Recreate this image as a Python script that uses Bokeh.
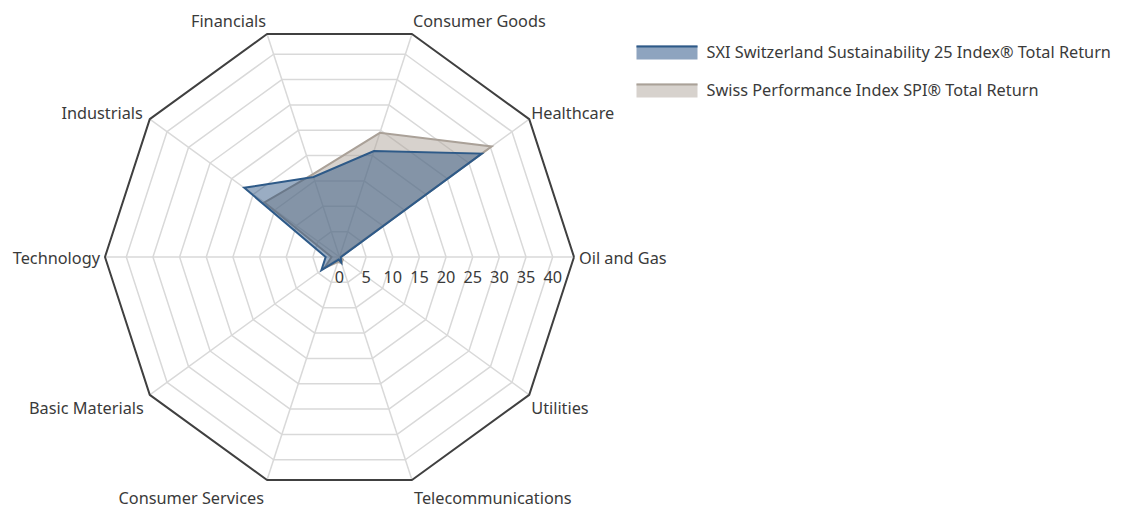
import numpy as np
from bokeh.plotting import figure
from bokeh.models import Range1d
from bokeh.core.properties import value
from bokeh.embed import file_html
from bokeh.resources import INLINE

categories = ["Oil and Gas", "Healthcare", "Consumer Goods", "Financials", "Industrials",
              "Technology", "Basic Materials", "Consumer Services", "Telecommunications", "Utilities"]
sxi_values = [0.3, 33.0, 20.9, 15.8, 22.1, 2.6, 4.2, 0.5, 1.1, 0.3]
spi_values = [0.2, 35.3, 24.5, 16.3, 17.4, 1.5, 3.5, 1.0, 1.2, 0.8]
tick_values = [0, 5, 10, 15, 20, 25, 30, 35, 40]
tick_labels = ["0", "5", "10", "15", "20", "25", "30", "35", "40"]
axis_max = 44
series_names = ["SXI Switzerland Sustainability 25 Index® Total Return",
                "Swiss Performance Index SPI® Total Return"]

W, H = 1129, 509
S = 5.33            # pixels per unit
CX, CY = 339, 256.5  # centre in canvas px
FONT = "Noto Sans"
FS = "16.3px"
TXT = "#3a3a3a"

p = figure(width=W, height=H, output_backend="svg", toolbar_location=None,
           x_range=Range1d(-CX / S, (W - CX) / S), y_range=Range1d(-(H - CY) / S, CY / S),
           min_border=0)
p.axis.visible = False
p.grid.visible = False
p.outline_line_color = None
p.background_fill_color = "white"

n = len(categories)
ang = np.deg2rad(np.arange(n) * 360.0 / n)

def ring(r):
    return list(r * np.cos(ang)) + [r * np.cos(ang[0])], list(r * np.sin(ang)) + [r * np.sin(ang[0])]

# grid rings
for t in tick_values[1:]:
    xs, ys = ring(t)
    p.line(xs, ys, line_color="#d9d9d9", line_width=1.5)
# spokes
p.segment(x0=[0] * n, y0=[0] * n, x1=list(axis_max * np.cos(ang)), y1=list(axis_max * np.sin(ang)),
          line_color="#d9d9d9", line_width=1.5)
# outer ring
xs, ys = ring(axis_max)
p.line(xs, ys, line_color="#404040", line_width=2)

def poly(vals):
    v = np.array(vals)
    return list(v * np.cos(ang)), list(v * np.sin(ang))

gx, gy = poly(spi_values)
p.patch(gx, gy, fill_color="#b0a69b", fill_alpha=0.5, line_color="#aaa198", line_width=2, line_join="miter")
bx, by = poly(sxi_values)
p.patch(bx, by, fill_color="#1f4a7a", fill_alpha=0.45, line_color="#2e5a88", line_width=2, line_join="miter")

# radial tick labels
p.text(x=tick_values, y=[0] * len(tick_values), text=tick_labels, text_align="center",
       text_baseline="alphabetic", y_offset=[19.5] * len(tick_values), text_font=value(FONT),
       text_font_size=FS, text_color=TXT)

# category labels
aligns = ["left", "left", "left", "right", "right", "right", "right", "right", "left", "left"]
xoff = [5, 2, 1, -1, -7, -5, -6, -3, 2, 2]
yoff = [0.5, -6.5, -13, -13, -6.5, 0.5, 13.4, 18, 18, 13.4]
vx = list(axis_max * np.cos(ang))
vy = list(axis_max * np.sin(ang))
for i in range(n):
    p.text(x=[vx[i]], y=[vy[i]], text=[categories[i]], text_align=aligns[i], text_baseline="alphabetic",
           x_offset=xoff[i], y_offset=yoff[i], text_font=value(FONT), text_font_size=FS,
           text_color=TXT)

# legend (drawn manually)
def dx(px):
    return (px - CX) / S

def dy(py):
    return (CY - py) / S

leg_fill = ["#8ea4bf", "#d7d2cd"]
leg_line = ["#2e5a88", "#aaa198"]
tops = [45, 83]
text_base = [51, 89.5]
for i in range(2):
    p.quad(left=dx(636), right=dx(697), top=dy(tops[i]), bottom=dy(tops[i] + 14),
           fill_color=leg_fill[i], line_color=None)
    p.segment(x0=dx(636), x1=dx(697), y0=dy(tops[i] + 1), y1=dy(tops[i] + 1), line_color=leg_line[i], line_width=2)
    p.text(x=[dx(706)], y=[dy(text_base[i])], text=[series_names[i]], text_align="left",
           text_baseline="alphabetic", text_font=value(FONT), text_font_size=FS, text_color=TXT)

open("out.html", "w").write(file_html(p, INLINE))
